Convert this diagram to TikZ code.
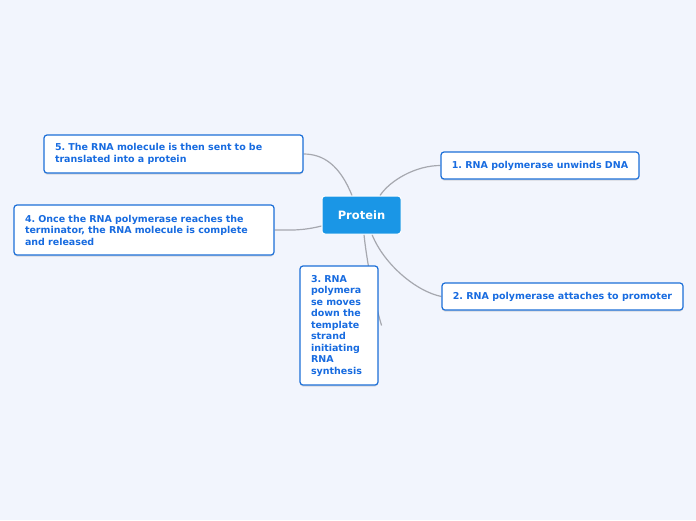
\documentclass[tikz,border=0pt]{standalone}
\usepackage{fontspec}
\setmainfont{DejaVu Sans}
\usetikzlibrary{arrows.meta,positioning,calc,shadows,backgrounds}
\definecolor{bgblue}{HTML}{F2F5FD}
\definecolor{topicblue}{HTML}{1A96E6}
\definecolor{edgeblue}{HTML}{1C6FD8}
\definecolor{textblue}{HTML}{176BE0}
\definecolor{linkgray}{HTML}{A6A8AF}

\begin{document}
\frenchspacing
\begin{tikzpicture}[x=1pt,y=-1pt,
  topic/.style={draw=white,line width=1pt,fill=topicblue,rounded corners=3pt,
    text=white,font=\bfseries\fontsize{11.5}{13}\selectfont,
    minimum width=79pt,minimum height=38pt,inner sep=0pt},
  sub/.style={draw=edgeblue,line width=1.2pt,fill=white,rounded corners=3pt,
    text=textblue,font=\bfseries\fontsize{9.5}{11.5}\selectfont,align=left,
    inner xsep=11pt,inner ysep=0pt,
    drop shadow={shadow xshift=0pt,shadow yshift=-1.5pt,opacity=0.25}},
  link/.style={draw=linkgray,line width=1.2pt}]
  \useasboundingbox (0,0) rectangle (696,520);

  \node[topic] (prot) at (361.5,215) {Protein};
  \node[sub,inner xsep=5pt,minimum width=198pt,minimum height=27pt] (s1) at (540,165.5)
    {1. RNA polymerase unwinds DNA};
  \node[sub,inner xsep=5pt,minimum width=241pt,minimum height=27pt] (s2) at (562.5,296.5)
    {2. RNA polymerase attaches to promoter};
  \node[sub,text width=56pt,minimum height=119pt] (s3) at (339,325.5)
    {3. RNA\\polymera\\se moves\\down the\\template\\strand\\initiating\\RNA\\synthesis};
  \node[sub,text width=238pt,minimum height=50pt] (s4) at (144,230)
    {4. Once the RNA polymerase reaches the\\terminator, the RNA molecule is complete\\and released};
  \node[sub,text width=237pt,minimum height=38pt] (s5) at (173.5,154)
    {5. The RNA molecule is then sent to be\\translated into a protein};

  \begin{scope}[on background layer]
    \fill[bgblue] (0,0) rectangle (696,520);
    % links from the central topic
    \draw[link] ([xshift=18.5pt]prot.north) .. controls +(10,-15) and +(-25,0) .. (s1.west);
    \draw[link] ([xshift=10.5pt]prot.south) .. controls +(12,30) and +(-25,-5) .. (s2.west);
    \draw[link] ([xshift=2.5pt]prot.south) .. controls +(3,30) and +(-5,-15) .. ([xshift=3pt]s3.east);
    \draw[link] ([yshift=-11pt]prot.west) .. controls +(-20,5) and +(15,0) .. (s4.east);
    \draw[link] ([xshift=-9.5pt]prot.north) .. controls +(-12,-30) and +(20,0) .. (s5.east);
  \end{scope}
\end{tikzpicture}
\end{document}
